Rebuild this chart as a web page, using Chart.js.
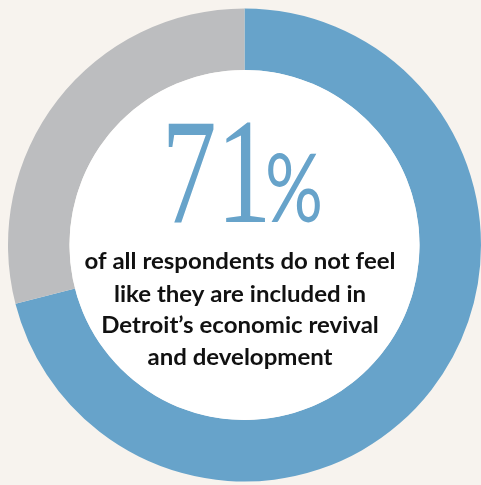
<!DOCTYPE html>
<html lang="en">
<head>
    <meta charset="UTF-8">
    <title>Detroit inclusion survey</title>
    <script src="https://cdn.jsdelivr.net/npm/chart.js"></script>
    <style>
        html, body { margin: 0; padding: 0; background: #f7f3ee; }
        #ring { display: block; }
    </style>
</head>
<body>
    <canvas id="ring" width="481" height="485"></canvas>
    <script>
        // survey split
        const categories = ['Do not feel included', 'Feel included / other'];
        const shares = [71, 29];
        const sliceColors = ['#67a3ca', '#bcbdbf'];

        const bigNumber = shares[0] + '';
        const captionLines = [
            'of all respondents do not feel',
            'like they are included in',
            'Detroit\u2019s economic revival',
            'and development'
        ];

        // draw text squeezed into a box given by left, baseline, width and height
        function fitText(ctx, text, font, left, baseline, w, h) {
            ctx.save();
            ctx.font = font;
            ctx.textAlign = 'left';
            ctx.textBaseline = 'alphabetic';
            const m = ctx.measureText(text);
            const tw = m.actualBoundingBoxLeft + m.actualBoundingBoxRight;
            const th = m.actualBoundingBoxAscent;
            ctx.translate(left, baseline);
            ctx.scale(w / tw, h / th);
            ctx.fillText(text, m.actualBoundingBoxLeft, 0);
            ctx.restore();
        }

        const centerText = {
            id: 'centerText',
            afterDatasetsDraw(chart) {
                const ctx = chart.ctx;
                const arc = chart.getDatasetMeta(0).data[0];
                // white hole
                ctx.save();
                ctx.beginPath();
                ctx.arc(arc.x, arc.y, arc.innerRadius, 0, Math.PI * 2);
                ctx.fillStyle = '#ffffff';
                ctx.fill();
                ctx.restore();

                ctx.fillStyle = '#67a3ca';
                fitText(ctx, bigNumber, '150px "Liberation Serif"', 168, 222, 97, 100);
                fitText(ctx, '%', '96px Lato', 268, 222, 52, 70);

                // caption, widened a little so the first line spans ~311px
                ctx.save();
                ctx.fillStyle = '#111111';
                ctx.font = 'bold 22px Lato';
                ctx.textAlign = 'center';
                ctx.textBaseline = 'alphabetic';
                const sx = 311 / ctx.measureText(captionLines[0]).width;
                ctx.translate(240, 0);
                ctx.scale(sx, 1);
                const baselines = [269, 302, 333, 365];
                captionLines.forEach(function (line, i) {
                    ctx.fillText(line, 0, baselines[i]);
                });
                ctx.restore();
            }
        };

        new Chart(document.getElementById('ring'), {
            type: 'doughnut',
            data: {
                labels: categories,
                datasets: [{
                    data: shares,
                    backgroundColor: sliceColors,
                    borderWidth: 0
                }]
            },
            options: {
                responsive: false,
                animation: false,
                cutout: '74%',
                layout: { padding: { left: 8, right: 0, top: 8, bottom: 3 } },
                plugins: {
                    legend: { display: false },
                    tooltip: { enabled: false }
                }
            },
            plugins: [centerText]
        });
    </script>
</body>
</html>
